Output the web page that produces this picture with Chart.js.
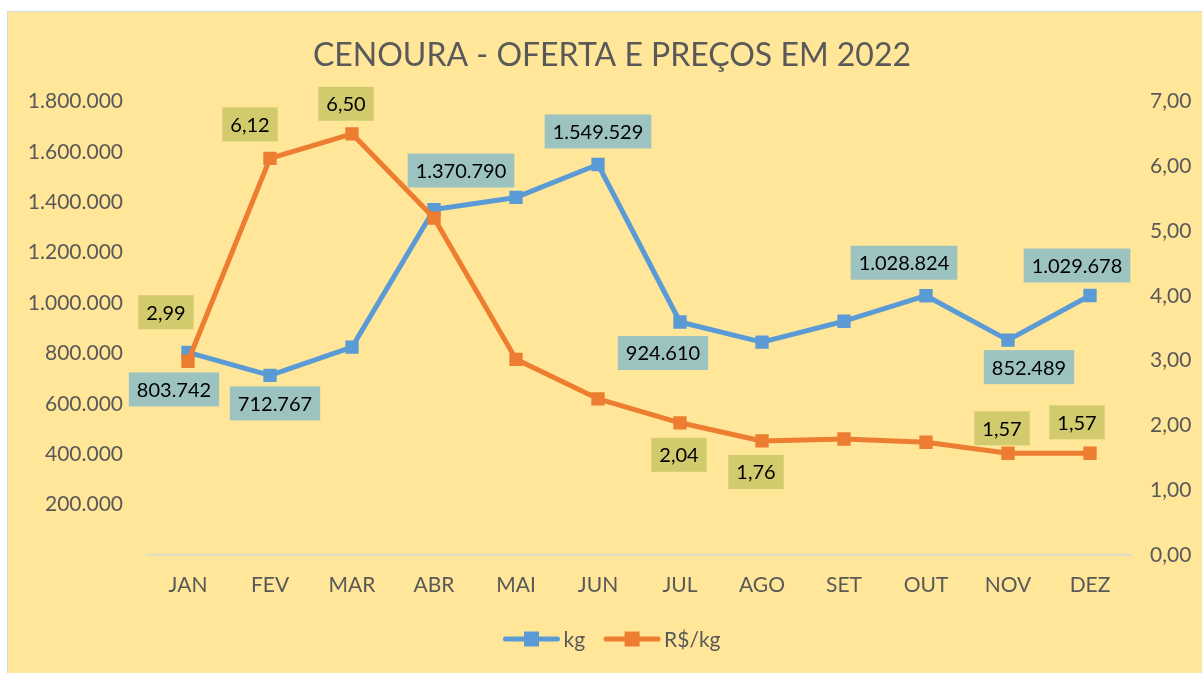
<!DOCTYPE html>
<html>
<head>
<meta charset="utf-8">
<script src="https://cdn.jsdelivr.net/npm/chart.js@4"></script>
<style>
  html, body { margin: 0; padding: 0; background: #fff; overflow: hidden; }
  #frame {
    position: absolute; left: 7px; top: 11px;
    width: 1208px; height: 661px;
    border: 1px solid #D9D9D9;
    background: #FFE699;
  }
</style>
</head>
<body>
<div id="frame"><canvas id="lineChart"></canvas></div>
<script>
// dados
const meses = ["JAN", "FEV", "MAR", "ABR", "MAI", "JUN", "JUL", "AGO", "SET", "OUT", "NOV", "DEZ"];
const ofertaKg = [803742, 712767, 825000, 1370790, 1419000, 1549529, 924610, 844500, 927700, 1028824, 852489, 1029678];
const precoKg = [2.99, 6.12, 6.50, 5.20, 3.02, 2.41, 2.04, 1.76, 1.79, 1.74, 1.57, 1.57];
const ticksKg = [0, 200000, 400000, 600000, 800000, 1000000, 1200000, 1400000, 1600000, 1800000];
const ticksPreco = [0, 1, 2, 3, 4, 5, 6, 7];

// posição dos rótulos (deslocamento em px a partir do ponto), null = sem rótulo
const rotuloKg = [[-14, 37], [5, 28], null, [27, -39], null, [0, -33], [-17, 31], null, null, [-22, -33], [21, 27], [-13, -30]];
const rotuloPreco = [[-22, -49], [-20, -34], [-6, -30], null, null, null, [-1, 32], [-6, 31], null, null, [-6, -25], [-13, -31]];

const fonte = "Lato, 'Open Sans', sans-serif";
const cinza = "#595959";

function fmtKg(v) {
  return String(Math.round(v)).replace(/\B(?=(\d{3})+(?!\d))/g, ".");
}
function fmtPreco(v) {
  return v.toFixed(2).replace(".", ",");
}

// rótulos de dados com caixa colorida
const rotulos = {
  id: "rotulos",
  afterDatasetsDraw(chart) {
    const ctx = chart.ctx;
    const conf = [
      { ds: 0, pos: rotuloKg, fmt: fmtKg, cor: "#9DC3C1" },
      { ds: 1, pos: rotuloPreco, fmt: fmtPreco, cor: "#D1CB6D" }
    ];
    ctx.save();
    ctx.font = "20px " + fonte;
    ctx.textAlign = "center";
    ctx.textBaseline = "middle";
    conf.forEach(c => {
      const meta = chart.getDatasetMeta(c.ds);
      const valores = chart.data.datasets[c.ds].data;
      meta.data.forEach((pt, i) => {
        const off = c.pos[i];
        if (!off) return;
        const txt = c.fmt(valores[i]);
        const w = ctx.measureText(txt).width + 16;
        const h = 34;
        const cx = pt.x + off[0];
        const cy = pt.y + off[1];
        ctx.fillStyle = c.cor;
        ctx.fillRect(cx - w / 2, cy - h / 2, w, h);
        ctx.fillStyle = "#000";
        ctx.fillText(txt, cx, cy + 1);
      });
    });
    ctx.restore();
  }
};

// legenda no estilo do Excel (linha + marcador)
const legenda = {
  id: "legenda",
  afterDraw(chart) {
    const ctx = chart.ctx;
    const itens = chart.data.datasets.map(d => ({ txt: d.label, cor: d.borderColor }));
    ctx.save();
    ctx.font = "21px " + fonte;
    ctx.textBaseline = "middle";
    const linha = 56, gap = 4, entre = 19;
    let total = 0;
    itens.forEach((it, i) => {
      total += linha + gap + ctx.measureText(it.txt).width + (i ? entre : 0);
    });
    let x = chart.width / 2 - total / 2;
    const y = 627;
    itens.forEach(it => {
      ctx.strokeStyle = it.cor;
      ctx.lineWidth = 5;
      ctx.lineCap = "round";
      ctx.beginPath();
      ctx.moveTo(x + 2, y);
      ctx.lineTo(x + linha - 2, y);
      ctx.stroke();
      ctx.fillStyle = it.cor;
      ctx.fillRect(x + linha / 2 - 7.5, y - 7.5, 15, 15);
      ctx.fillStyle = cinza;
      ctx.fillText(it.txt, x + linha + gap, y + 1);
      x += linha + gap + ctx.measureText(it.txt).width + entre;
    });
    ctx.restore();
  }
};

new Chart(document.getElementById("lineChart"), {
  type: "line",
  data: {
    labels: meses,
    datasets: [{
      label: "kg",
      data: ofertaKg,
      yAxisID: "y",
      borderColor: "#5B9BD5",
      backgroundColor: "#5B9BD5",
      borderWidth: 5,
      borderJoinStyle: "round",
      borderCapStyle: "round",
      pointStyle: "rect",
      pointRadius: 8,
      pointBorderWidth: 2,
      fill: false,
      tension: 0,
      order: 1
    },
    {
      label: "R$/kg",
      data: precoKg,
      yAxisID: "y1",
      borderColor: "#ED7D31",
      backgroundColor: "#ED7D31",
      borderWidth: 5,
      borderJoinStyle: "round",
      borderCapStyle: "round",
      pointStyle: "rect",
      pointRadius: 8,
      pointBorderWidth: 2,
      fill: false,
      tension: 0,
      order: 0
    }]
  },
  options: {
    responsive: true,
    maintainAspectRatio: false,
    animation: false,
    layout: { padding: 0 },
    plugins: {
      legend: { display: false },
      tooltip: { enabled: false },
      title: {
        display: true,
        text: "CENOURA - OFERTA E PREÇOS EM 2022",
        color: cinza,
        font: { family: fonte, size: 32, weight: "normal" },
        padding: { top: 24, bottom: 27 }
      }
    },
    scales: {
      x: {
        offset: true,
        grid: { display: false, drawTicks: false, offset: true },
        border: { display: true, color: "#D9D9D9", width: 1.5 },
        ticks: { color: cinza, font: { family: fonte, size: 21 }, padding: 18 },
        afterFit: s => { s.height = 118; }
      },
      y: {
        position: "left",
        min: 0,
        max: 1800000,
        grid: { display: false, drawTicks: false },
        border: { display: false },
        afterBuildTicks: s => { s.ticks = ticksKg.map(v => ({ value: v })); },
        ticks: {
          color: cinza,
          font: { family: fonte, size: 21 },
          padding: 24,
          callback: v => (v === 0 ? "" : fmtKg(v))
        },
        afterFit: s => { s.width = 139; }
      },
      y1: {
        position: "right",
        min: 0,
        max: 7,
        grid: { display: false, drawTicks: false },
        border: { display: false },
        afterBuildTicks: s => { s.ticks = ticksPreco.map(v => ({ value: v })); },
        ticks: {
          color: cinza,
          font: { family: fonte, size: 21 },
          padding: 19,
          callback: v => fmtPreco(v)
        },
        afterFit: s => { s.width = 85; }
      }
    }
  },
  plugins: [rotulos, legenda]
});
</script>
</body>
</html>
